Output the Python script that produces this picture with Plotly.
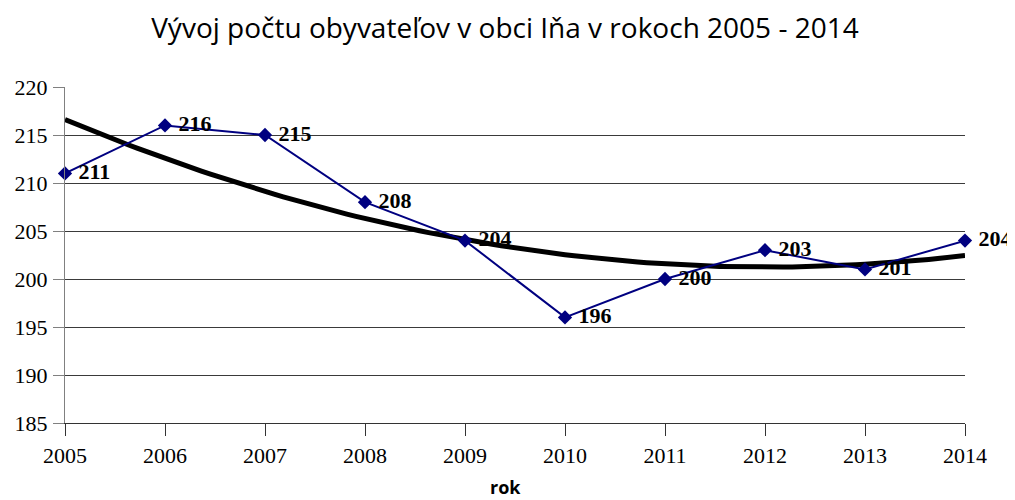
import numpy as np
import plotly.graph_objects as go

years = [2005, 2006, 2007, 2008, 2009, 2010, 2011, 2012, 2013, 2014]
population = [211, 216, 215, 208, 204, 196, 200, 203, 201, 204]
y_ticks = [185, 190, 195, 200, 205, 210, 215, 220]

# polynomial trendline (order 2) like the spreadsheet one
coef = np.polyfit(years, population, 2)
trend_x = np.linspace(years[0], years[-1], 100)
trend_y = np.polyval(coef, trend_x)

fig = go.Figure()
fig.add_trace(
    go.Scatter(
        x=trend_x,
        y=trend_y,
        mode="lines",
        line=dict(color="black", width=5),
        hoverinfo="skip",
    )
)
fig.add_trace(
    go.Scatter(
        x=years,
        y=population,
        mode="lines+markers+text",
        line=dict(color="#000080", width=2),
        marker=dict(symbol="diamond", size=11, color="#000080"),
        text=["\u00a0" + str(v) for v in population],
        textposition="middle right",
        textfont=dict(family="Liberation Serif", size=22, color="black", weight="bold"),
        cliponaxis=False,
    )
)

# x-axis title placed as annotation to sit near the bottom edge
fig.add_annotation(
    text="<b>rok</b>",
    xref="paper",
    yref="paper",
    x=0.489,
    y=-0.19,
    xanchor="center",
    yanchor="middle",
    showarrow=False,
    font=dict(family="Open Sans", size=18, color="black"),
)

# page has an 8px body margin, so the figure is 1007x492
fig.update_layout(
    width=1007,
    height=492,
    showlegend=False,
    plot_bgcolor="white",
    paper_bgcolor="white",
    margin=dict(l=57, r=50, t=79, b=77, autoexpand=False),
    title=dict(
        text="Vývoj počtu obyvateľov v obci Iňa v rokoch 2005 - 2014",
        x=0.4935,
        xanchor="center",
        y=0.959,
        yanchor="middle",
        font=dict(family="Open Sans", size=28, color="black"),
    ),
    xaxis=dict(
        range=[2005, 2014],
        tickvals=years,
        ticks="outside",
        ticklen=12,
        tickcolor="#333333",
        showgrid=False,
        showline=True,
        linecolor="#333333",
        linewidth=1,
        zeroline=False,
        automargin=False,
        ticklabelstandoff=1,
        tickfont=dict(family="Liberation Serif", size=22, color="black"),
    ),
    yaxis=dict(
        range=[185, 220],
        tickvals=y_ticks,
        ticks="outside",
        ticklen=11,
        tickcolor="#808080",
        showgrid=True,
        gridcolor="#3a3a3a",
        gridwidth=1,
        showline=True,
        linecolor="#808080",
        linewidth=1,
        zeroline=False,
        automargin=False,
        ticklabelstandoff=1,
        tickfont=dict(family="Liberation Serif", size=22, color="black"),
    ),
)

fig.write_html("out.html")
